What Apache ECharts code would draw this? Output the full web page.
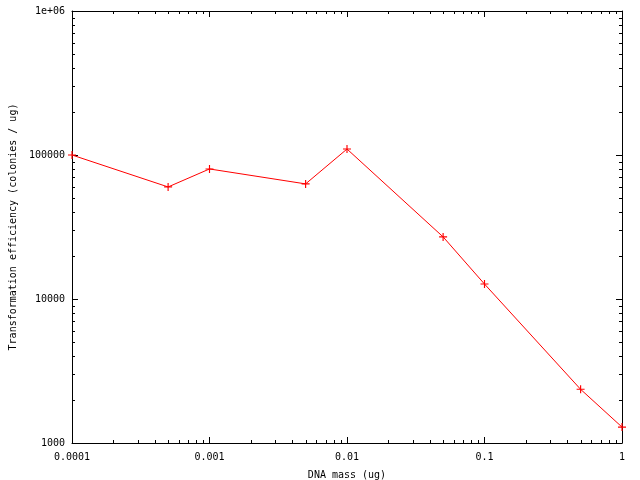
<!DOCTYPE html>
<html>
<head>
<meta charset="utf-8">
<script src="https://cdn.jsdelivr.net/npm/echarts@6/dist/echarts.min.js"></script>
<style>html,body{margin:0;padding:0;background:#fff}#c{width:640px;height:480px}</style>
</head>
<body>
<div id="c"></div>
<script>
const dnaMass = [0.0001, 0.0005, 0.001, 0.005, 0.01, 0.05, 0.1, 0.5, 1];
const efficiency = [100000, 60000, 80000, 63000, 110000, 27000, 12700, 2360, 1290];
const xTickValues = [0.0001, 0.001, 0.01, 0.1, 1];
const xTickLabels = ['0.0001', '0.001', '0.01', '0.1', '1'];
const yTickValues = [1000, 10000, 100000, 1000000];
const yTickLabels = ['1000', '10000', '100000', '1e+06'];
const minorMultipliers = [2, 3, 4, 5, 6, 7, 8, 9];

const FONT = 'DejaVu Sans Mono';
const xMin = xTickValues[0], xMax = xTickValues[xTickValues.length - 1];
const yMin = yTickValues[0], yMax = yTickValues[yTickValues.length - 1];

function lookup(values, labels) {
  return function (v) {
    for (let i = 0; i < values.length; i++) {
      if (Math.abs(Math.log10(v) - Math.log10(values[i])) < 1e-6) return labels[i];
    }
    return '';
  };
}

const xMinor = [], yMinor = [];
for (let i = 0; i < xTickValues.length - 1; i++) minorMultipliers.forEach(m => xMinor.push(xTickValues[i] * m));
for (let i = 0; i < yTickValues.length - 1; i++) minorMultipliers.forEach(m => yMinor.push(yTickValues[i] * m));

const axisLineStyle = { lineStyle: { color: '#000', width: 1 } };
const tick = { show: true, inside: true, length: 6, lineStyle: { color: '#000', width: 1 } };

const chart = echarts.init(document.getElementById('c'), null, { renderer: 'canvas' });
chart.setOption({
  animation: false,
  backgroundColor: '#fff',
  grid: { left: 72, right: 18, top: 11, bottom: 37, containLabel: false, outerBoundsMode: 'none' },
  xAxis: [
    {
      type: 'log', logBase: 10, min: xMin, max: xMax, position: 'bottom',
      name: 'DNA mass (ug)', nameLocation: 'middle', nameGap: 27,
      nameTextStyle: { fontFamily: FONT, fontSize: 10, color: '#000' },
      axisLine: axisLineStyle, axisTick: tick, splitLine: { show: false }, minorTick: { show: false },
      axisLabel: { show: true, margin: 9, fontFamily: FONT, fontSize: 10, color: '#000', formatter: lookup(xTickValues, xTickLabels) }
    },
    {
      type: 'log', logBase: 10, min: xMin, max: xMax, position: 'top',
      axisLine: axisLineStyle, axisTick: tick, splitLine: { show: false },
      axisLabel: { show: false }
    }
  ],
  yAxis: [
    {
      type: 'log', logBase: 10, min: yMin, max: yMax, position: 'left',
      name: 'Transformation efficiency (colonies / ug)', nameLocation: 'middle', nameGap: 52,
      nameTextStyle: { fontFamily: FONT, fontSize: 10, color: '#000' },
      axisLine: axisLineStyle, axisTick: tick, splitLine: { show: false },
      axisLabel: { show: true, margin: 7, fontFamily: FONT, fontSize: 10, color: '#000', formatter: lookup(yTickValues, yTickLabels) }
    },
    {
      type: 'log', logBase: 10, min: yMin, max: yMax, position: 'right',
      axisLine: axisLineStyle, axisTick: tick, splitLine: { show: false },
      axisLabel: { show: false }
    }
  ],
  series: [
    {
      type: 'custom',
      xAxisIndex: 0, yAxisIndex: 0,
      silent: true, clip: false,
      data: [[xMin, yMin]],
      renderItem: function (params, api) {
        const cs = params.coordSys;
        const left = cs.x, right = cs.x + cs.width, top = cs.y, bottom = cs.y + cs.height;
        const L = 3;
        const children = [];
        const st = { stroke: '#000', lineWidth: 1 };
        xMinor.forEach(v => {
          const px = Math.round(api.coord([v, yMin])[0]) + 0.5;
          children.push({ type: 'line', shape: { x1: px, y1: bottom, x2: px, y2: bottom - L }, style: st });
          children.push({ type: 'line', shape: { x1: px, y1: top, x2: px, y2: top + L }, style: st });
        });
        yMinor.forEach(v => {
          const py = Math.round(api.coord([xMin, v])[1]) + 0.5;
          children.push({ type: 'line', shape: { x1: left, y1: py, x2: left + L, y2: py }, style: st });
          children.push({ type: 'line', shape: { x1: right, y1: py, x2: right - L, y2: py }, style: st });
        });
        return { type: 'group', children: children };
      }
    },
    {
      type: 'line',
      xAxisIndex: 0, yAxisIndex: 0,
      data: dnaMass.map((x, i) => [x, efficiency[i]]),
      lineStyle: { color: '#ff0000', width: 1 },
      itemStyle: { color: '#ff0000' },
      symbol: 'path://M3,0 L4,0 L4,3 L7,3 L7,4 L4,4 L4,7 L3,7 L3,4 L0,4 L0,3 L3,3 Z',
      symbolSize: 8,
      showAllSymbol: true,
      clip: false
    }
  ]
});
</script>
</body>
</html>
